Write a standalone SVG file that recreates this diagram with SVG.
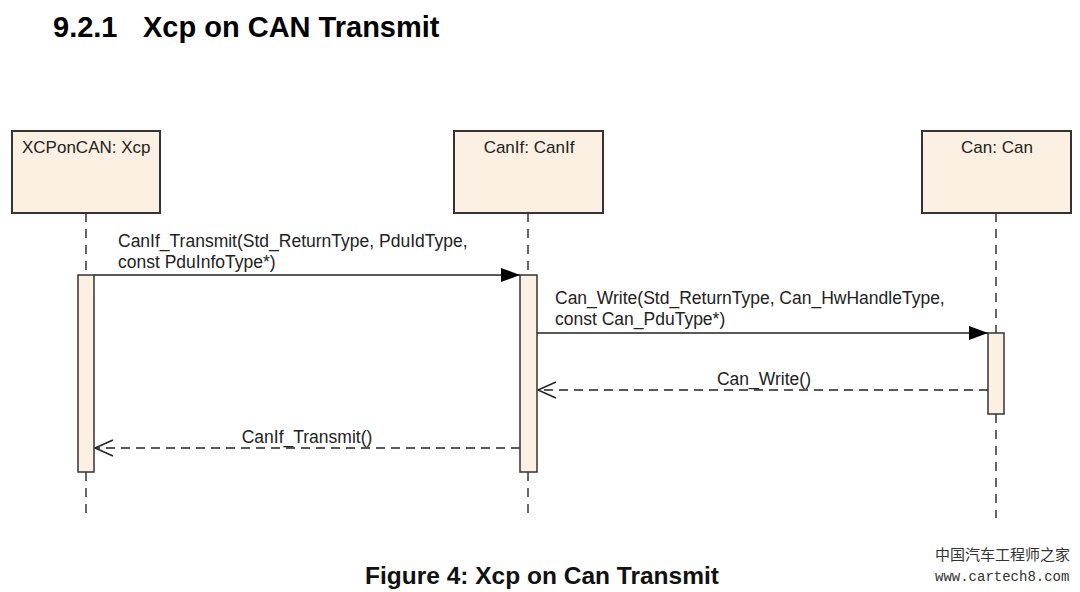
<svg xmlns="http://www.w3.org/2000/svg" width="1080" height="592" viewBox="0 0 1080 592">
<defs>
<style>
.box{fill:#fbf0e1;stroke:#333;stroke-width:2}
.act{fill:#fbf0e1;stroke:#333;stroke-width:1.5}
.life{stroke:#333;stroke-width:1.5;stroke-dasharray:9,7;fill:none}
.msg{stroke:#222;stroke-width:1.5;fill:none}
.ret{stroke:#222;stroke-width:1.5;fill:none;stroke-dasharray:9,6}
.lbl{font-family:"Liberation Sans",Arial,sans-serif;font-size:17.5px;fill:#222}
.nlbl{font-family:"Liberation Sans",Arial,sans-serif;font-size:17px;fill:#222}
.title{font-family:"Liberation Sans",Arial,sans-serif;font-size:29px;font-weight:bold;fill:#000}
.cap{font-family:"Liberation Sans",Arial,sans-serif;font-size:24.5px;font-weight:bold;fill:#111}
</style>
<marker id="filled" markerWidth="20" markerHeight="14" refX="19" refY="7" orient="auto" markerUnits="userSpaceOnUse">
<path d="M0,0 L19,7 L0,14 Z" fill="#000"/>
</marker>
<marker id="open" markerWidth="22" markerHeight="18" refX="20" refY="9" orient="auto" markerUnits="userSpaceOnUse">
<path d="M2,1 L20,9 L2,17" fill="none" stroke="#222" stroke-width="1.5"/>
</marker>
</defs>
<rect width="1080" height="592" fill="#fff"/>
<text class="title" x="53" y="37">9.2.1</text>
<text class="title" x="143" y="37">Xcp on CAN Transmit</text>

<g id="connectors">
<line class="life" x1="86" y1="213" x2="86" y2="275"/>
<line class="life" x1="86" y1="472" x2="86" y2="518"/>
<line class="life" x1="528" y1="213" x2="528" y2="275"/>
<line class="life" x1="528" y1="472" x2="528" y2="518"/>
<line class="life" x1="996" y1="213" x2="996" y2="333"/>
<line class="life" x1="996" y1="414" x2="996" y2="518"/>
<line class="msg" x1="94" y1="275" x2="520" y2="275" marker-end="url(#filled)"/>
<text class="lbl" x="118" y="247">CanIf_Transmit(Std_ReturnType, PduIdType,</text>
<text class="lbl" x="118" y="268">const PduInfoType*)</text>
<line class="msg" x1="537" y1="333" x2="988" y2="333" marker-end="url(#filled)"/>
<text class="lbl" x="555" y="304">Can_Write(Std_ReturnType, Can_HwHandleType,</text>
<text class="lbl" x="555" y="325">const Can_PduType*)</text>
<line class="ret" x1="988" y1="390" x2="538" y2="390" marker-end="url(#open)"/>
<text class="lbl" x="764" y="385" text-anchor="middle">Can_Write()</text>
<line class="ret" x1="520" y1="448" x2="95" y2="448" marker-end="url(#open)"/>
<text class="lbl" x="307" y="443" text-anchor="middle">CanIf_Transmit()</text>
</g>

<g id="xcp">
<rect class="box" x="12" y="131" width="148" height="82"/>
<text class="nlbl" x="22" y="153">XCPonCAN: Xcp</text>
<rect class="act" x="78" y="275" width="16" height="197"/>
</g>
<g id="canif">
<rect class="box" x="454" y="131" width="149" height="82"/>
<text class="nlbl" x="529" y="153" text-anchor="middle">CanIf: CanIf</text>
<rect class="act" x="520" y="275" width="17" height="197"/>
</g>
<g id="can">
<rect class="box" x="922" y="131" width="149" height="82"/>
<text class="nlbl" x="997" y="153" text-anchor="middle">Can: Can</text>
<rect class="act" x="988" y="333" width="16" height="81"/>
</g>

<text class="cap" x="542" y="584" text-anchor="middle">Figure 4: Xcp on Can Transmit</text>
<text x="935" y="560" font-family="'Noto Sans CJK SC',sans-serif" font-size="15" fill="#333">中国汽车工程师之家</text>
<text x="935" y="581" font-family="'Liberation Mono',monospace" font-size="14" fill="#333">www.cartech8.com</text>
</svg>
